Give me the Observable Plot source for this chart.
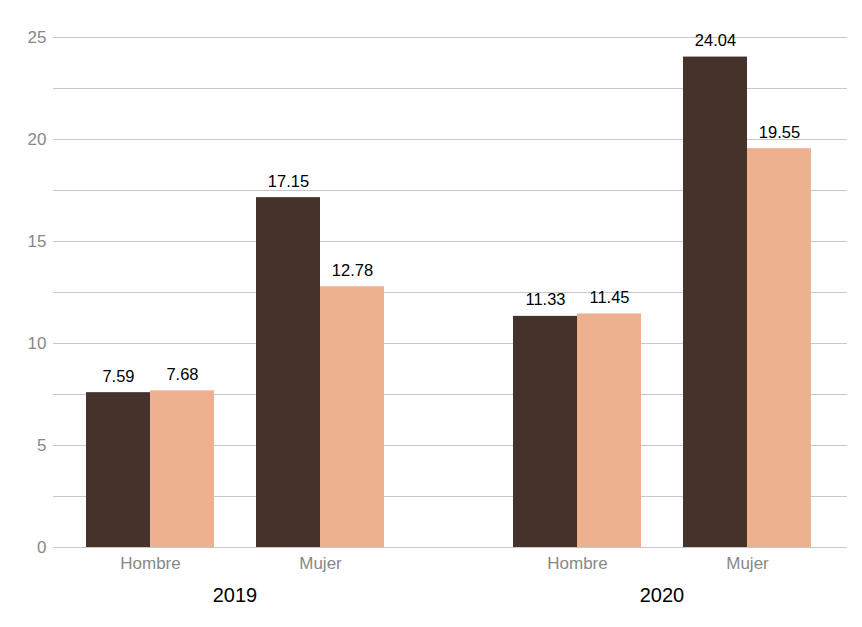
<!DOCTYPE html>
<html>
<head>
<meta charset="utf-8">
<script src="https://cdn.jsdelivr.net/npm/d3@7"></script>
<script src="https://cdn.jsdelivr.net/npm/@observablehq/plot@0.6"></script>
<style>
  html, body { margin: 0; padding: 0; background: #fff; }
</style>
</head>
<body>
<div id="chart"></div>
<script>
const years = ["2019", "2020"];
const sexes = ["Hombre", "Mujer"];
// order: 2019 Hombre, 2019 Mujer, 2020 Hombre, 2020 Mujer
const serie1 = [7.59, 17.15, 11.33, 24.04];
const serie2 = [7.68, 12.78, 11.45, 19.55];
const yTicks = [0, 5, 10, 15, 20, 25];
const gridValues = [0, 2.5, 5, 7.5, 10, 12.5, 15, 17.5, 20, 22.5, 25];

const rows = years.flatMap((yr, i) => sexes.map((s, j) => ({
  year: yr, sexo: s, a: serie1[i * 2 + j], b: serie2[i * 2 + j]
})));
const gridRows = years.flatMap(yr => gridValues.map(v => ({year: yr, v})));

const dark = "#45322b";
const peach = "#eeb18f";
const half = 64;

const chart = Plot.plot({
  width: 862,
  height: 627,
  marginLeft: 52,
  marginRight: 18,
  marginTop: 37,
  marginBottom: 80,
  style: {fontFamily: "'Liberation Sans', Arial, Helvetica, sans-serif", background: "white"},
  fx: {domain: years, paddingInner: 0.1495, paddingOuter: 0, label: null},
  x: {domain: sexes, paddingInner: 0.249, paddingOuter: 0.189, label: null},
  y: {domain: [0, 25], label: null},
  marks: [
    Plot.ruleY(gridRows.filter(d => d.year === years[0]), {fx: "year", y: "v", stroke: "#c8c8c8", strokeWidth: 1, insetRight: -64}),
    Plot.ruleY(gridRows.filter(d => d.year === years[1]), {fx: "year", y: "v", stroke: "#c8c8c8", strokeWidth: 1, insetRight: -4}),
    Plot.barY(rows, {fx: "year", x: "sexo", y: "a", fill: dark, insetRight: half}),
    Plot.barY(rows, {fx: "year", x: "sexo", y: "b", fill: peach, insetLeft: half}),
    Plot.text(rows, {fx: "year", x: "sexo", y: "a", text: d => d.a.toFixed(2), dx: -half / 2, dy: -11, lineAnchor: "bottom", fontSize: 16.5, fill: "black"}),
    Plot.text(rows, {fx: "year", x: "sexo", y: "b", text: d => d.b.toFixed(2), dx: half / 2, dy: -11, lineAnchor: "bottom", fontSize: 16.5, fill: "black"}),
    Plot.axisY({ticks: yTicks, tickSize: 0, tickPadding: 7, fontSize: 17, color: "#888888", label: null}),
    Plot.axisX({tickSize: 0, tickPadding: 9, fontSize: 17, color: "#888888", label: null}),
    Plot.axisFx({anchor: "bottom", tickSize: 0, tickPadding: 40, fontSize: 20, color: "black", label: null})
  ]
});
document.getElementById("chart").appendChild(chart);
</script>
</body>
</html>
